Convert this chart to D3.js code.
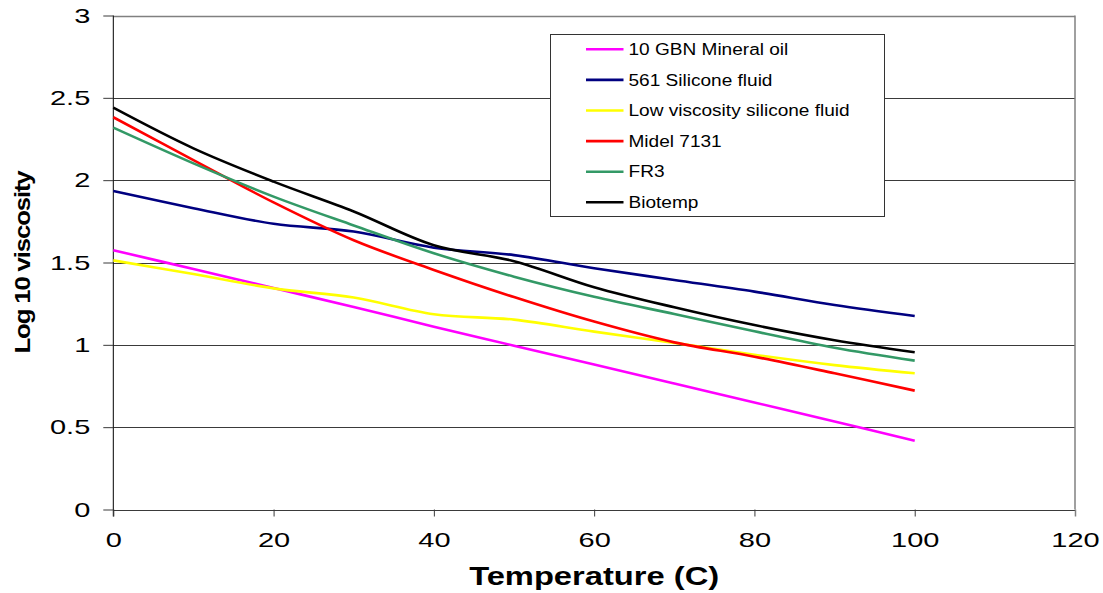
<!DOCTYPE html>
<html><head><meta charset="utf-8">
<script src="https://cdn.jsdelivr.net/npm/d3@7"></script>
<style>
body{margin:0;background:#fff;}
svg{display:block;font-family:"Liberation Sans",Arial,sans-serif;}
</style></head>
<body><svg id="c" width="1103" height="593"></svg>
<script>
const temps = [0,10,20,30,40,50,60,70,80,90,100];
const mineralOil = [1.575,1.46,1.345,1.23,1.11,0.995,0.88,0.765,0.65,0.535,0.418];
const silicone561 = [1.934,1.83,1.735,1.688,1.59,1.545,1.465,1.394,1.323,1.242,1.175];
const lowViscSilicone = [1.513,1.43,1.343,1.287,1.186,1.153,1.08,1.012,0.94,0.877,0.827];
const midel7131 = [2.382,2.122,1.865,1.635,1.455,1.29,1.141,1.015,0.928,0.827,0.722];
const fr3 = [2.319,2.102,1.9,1.725,1.556,1.414,1.292,1.187,1.082,0.982,0.904];
const biotemp = [2.44,2.193,1.991,1.81,1.605,1.508,1.35,1.228,1.12,1.028,0.955];
const seriesNames = ["10 GBN Mineral oil","561 Silicone fluid","Low viscosity silicone fluid","Midel 7131","FR3","Biotemp"];
const seriesColors = ["#FF00FF","#000080","#FFFF00","#FF0000","#339966","#000000"];
const xTicks = [0,20,40,60,80,100,120];
const yTicks = [0,0.5,1,1.5,2,2.5,3];

const series = [mineralOil,silicone561,lowViscSilicone,midel7131,fr3,biotemp];
const svg = d3.select("#c");
const x = d3.scaleLinear().domain([0,120]).range([113.3,1075]);
const y = d3.scaleLinear().domain([0,3]).range([509.5,15.5]);

function stretch(sel, f){
  sel.each(function(){
    const w = this.getComputedTextLength();
    d3.select(this).attr("textLength", w*f).attr("lengthAdjust","spacingAndGlyphs");
  });
}

// gridlines
svg.append("g").selectAll("line").data(yTicks).join("line")
  .attr("x1",x(0)).attr("x2",x(120))
  .attr("y1",d=>Math.round(y(d))+0.5).attr("y2",d=>Math.round(y(d))+0.5)
  .attr("stroke",d=>d===3?"#808080":"#3a3a3a").attr("stroke-width",d=>d===3?1.5:1);
// right border
svg.append("line").attr("x1",x(120)).attr("x2",x(120)).attr("y1",y(3)).attr("y2",y(0))
  .attr("stroke","#808080").attr("stroke-width",1.5);

// y axis
const gy = svg.append("g").attr("transform",`translate(${x(0)},0)`)
  .call(d3.axisLeft(y).tickValues(yTicks).tickSize(10).tickPadding(13).tickFormat(d3.format("")));
gy.select(".domain").attr("stroke","#000").attr("d",`M0,${y(3)}V${y(0)+7}`);
gy.selectAll(".tick line").attr("stroke","#3a3a3a");
gy.selectAll("text").attr("font-size",21).attr("fill","#000").attr("font-family","Liberation Sans, Arial, sans-serif");
stretch(gy.selectAll("text"),1.38);

// x axis
const gx = svg.append("g").attr("transform",`translate(0,${y(0)})`)
  .call(d3.axisBottom(x).tickValues(xTicks).tickSize(7).tickPadding(16).tickFormat(d3.format("d")));
gx.select(".domain").remove();
gx.selectAll(".tick line").attr("stroke","#3a3a3a");
gx.selectAll(".tick").filter(d=>d===120).select("line").attr("stroke","#808080").attr("stroke-width",1.5);
gx.selectAll("text").attr("font-size",21).attr("fill","#000").attr("font-family","Liberation Sans, Arial, sans-serif");
stretch(gx.selectAll("text"),1.38);

// lines
const line = d3.line().x((d,i)=>x(temps[i])).y(d=>y(d)).curve(d3.curveCatmullRom.alpha(0.5));
svg.append("g").selectAll("path").data(series).join("path")
  .attr("d",line).attr("fill","none")
  .attr("stroke",(d,i)=>seriesColors[i]).attr("stroke-width",2.6);

// axis titles
const xt = svg.append("text").attr("x",(x(0)+x(120))/2).attr("y",585)
  .attr("text-anchor","middle").attr("font-weight","bold").attr("font-size",25)
  .text("Temperature (C)");
xt.attr("textLength",250).attr("lengthAdjust","spacingAndGlyphs");
const yt = svg.append("text").attr("transform",`translate(30,${(y(0)+y(3))/2}) rotate(-90)`)
  .attr("text-anchor","middle").attr("font-weight","bold").attr("font-size",22.5)
  .attr("letter-spacing",-1).text("Log 10 viscosity");
yt.attr("textLength",182).attr("lengthAdjust","spacingAndGlyphs");

// legend
const lg = svg.append("g");
lg.append("rect").attr("x",550.5).attr("y",34.5).attr("width",334).attr("height",182)
  .attr("fill","#fff").attr("stroke","#333").attr("stroke-width",1);
const rows = lg.selectAll("g.r").data(seriesNames).join("g").attr("class","r")
  .attr("transform",(d,i)=>`translate(0,${49.3+i*30.6})`);
rows.append("line").attr("x1",586).attr("x2",623.5).attr("y1",0).attr("y2",0)
  .attr("stroke",(d,i)=>seriesColors[i]).attr("stroke-width",2.6);
const lt = rows.append("text").attr("x",628.5).attr("y",0).attr("dy","0.36em")
  .attr("font-size",16).attr("fill","#000").text(d=>d);
stretch(lt,1.19);
</script></body></html>
